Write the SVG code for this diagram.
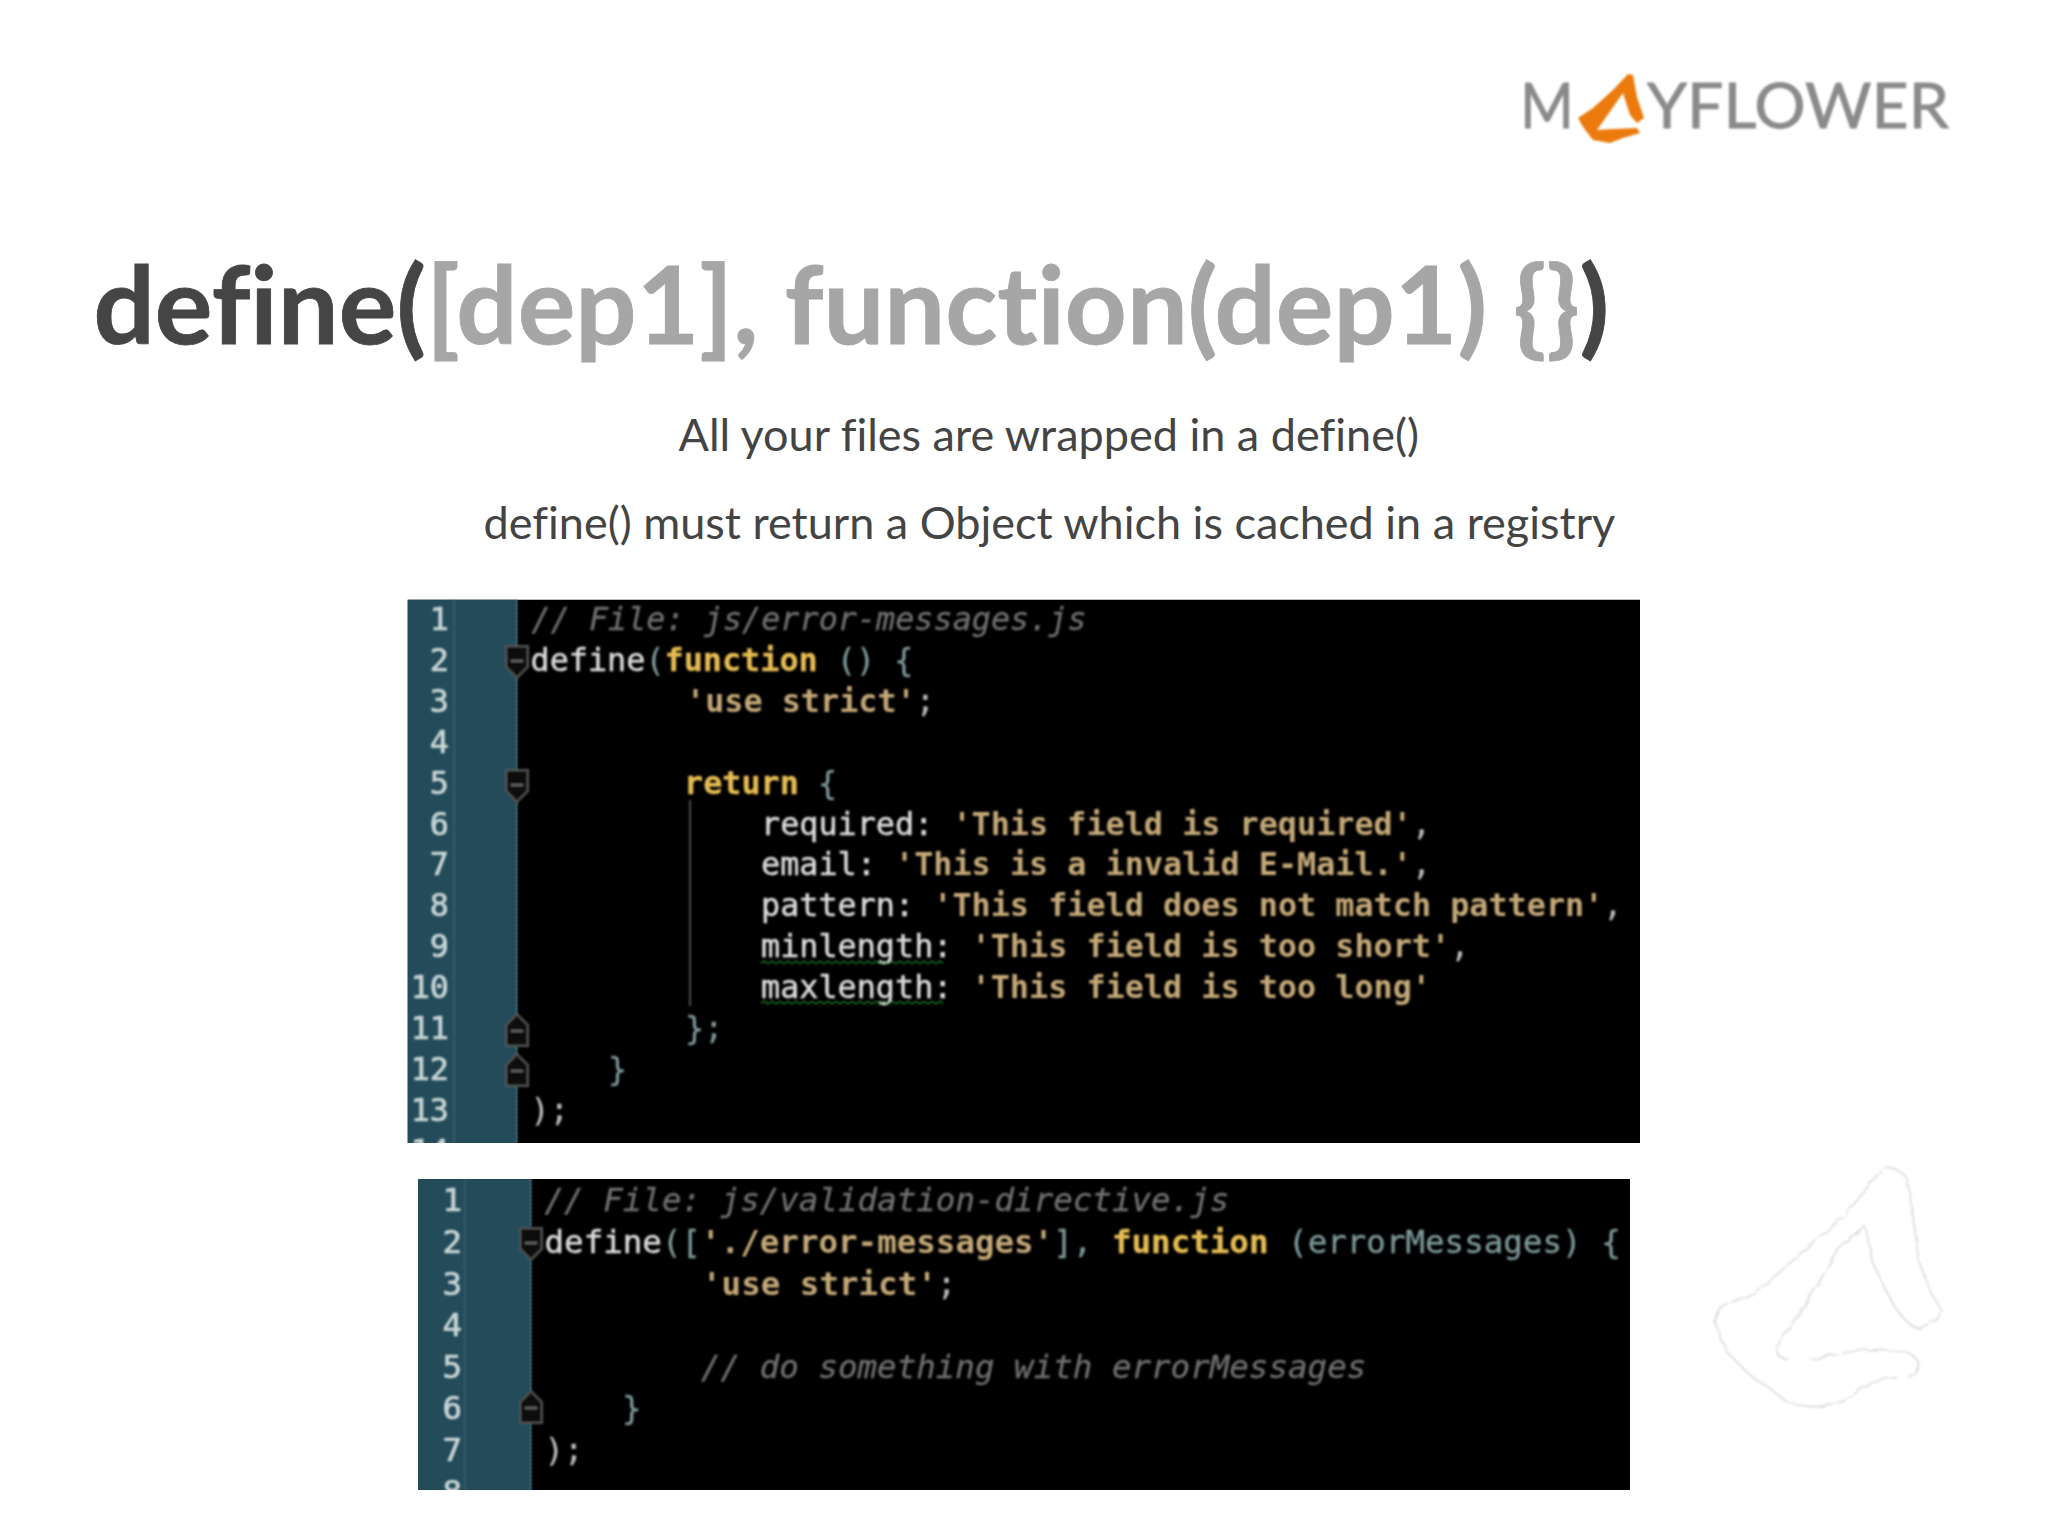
<svg xmlns="http://www.w3.org/2000/svg" width="2048" height="1536" viewBox="0 0 2048 1536">
<style>
.t{font-family:"Lato","Noto Sans",sans-serif;font-variant-ligatures:none}
.h{font-size:108px;font-weight:700}
.d{fill:#454545;stroke:#454545;stroke-width:.8}.g{fill:#a6a6a6;stroke:#a6a6a6;stroke-width:.8}
.s{font-size:45px;fill:#444}
.lg{font-size:62px;fill:#8a8a8a;stroke:#8a8a8a;stroke-width:.8}
.c{font-family:"DejaVu Sans Mono","Liberation Mono",monospace;white-space:pre;font-variant-ligatures:none}
.c1{font-size:31.8px}.c2{font-size:32.5px}
.n{fill:#c9d6d6;stroke:#c9d6d6;stroke-width:.7;text-anchor:end}
.w{fill:#dcdcdc;stroke:#dcdcdc;stroke-width:.5}.k{fill:#e6bd52;stroke:#e6bd52;stroke-width:.3;font-weight:700}.st{fill:#c4a877;font-weight:700}.p{fill:#7f9a9a;stroke:#7f9a9a;stroke-width:.3}.cm{fill:#6f6f6f;stroke:#6f6f6f;stroke-width:.3;font-style:italic}.pn{fill:#bbb;stroke:#bbb;stroke-width:.3}
.f{fill:#0c0c0c;stroke:#555;stroke-width:2}
.m{stroke:#666;stroke-width:2}
</style>
<defs>
<filter id="b" x="-2%" y="-2%" width="104%" height="104%"><feGaussianBlur stdDeviation="1"/></filter>
<filter id="b2" x="-5%" y="-20%" width="110%" height="140%"><feGaussianBlur stdDeviation="1"/></filter>
<filter id="wob" x="-5%" y="-5%" width="110%" height="110%"><feTurbulence type="fractalNoise" baseFrequency=".09" numOctaves="2" seed="4" result="n"/><feDisplacementMap in="SourceGraphic" in2="n" scale="5"/><feGaussianBlur stdDeviation=".8"/></filter>
<clipPath id="c1"><rect x="407.500" y="599.500" width="1232.500" height="543.500"/></clipPath>
<clipPath id="c2"><rect x="418" y="1179" width="1212" height="311"/></clipPath>
<pattern id="z" width="8" height="5" patternUnits="userSpaceOnUse"><path d="M0 4L4 1L8 4" fill="none" stroke="#1f8a2a" stroke-width="1.4"/></pattern>
<path id="fd" d="M-11 -15H11V6L0 17L-11 6Z" class="f"/>
<path id="fu" d="M-11 15H11V-6L0 -17L-11 -6Z" class="f"/>
</defs>
<rect width="2048" height="1536" fill="#fff"/>

<g id="logo" filter="url(#b2)">
<text class="t lg" x="1520" y="128" textLength="54" lengthAdjust="spacingAndGlyphs">M</text>
<text class="t lg" x="1647" y="128" textLength="302" lengthAdjust="spacingAndGlyphs">YFLOWER</text>
<path fill="#ec7a0c" d="M1628 74L1633 75L1637 97L1644 118L1637 123L1630 115L1623 93L1597 130L1613 129L1637 128L1640 133L1623 138L1610 143L1593 140L1583 127L1578 118L1593 108L1613 90Z"/>
</g>

<g id="title"><text class="t h" x="93.500" y="343.500"><tspan class="d">define(</tspan><tspan class="g">[dep1], function(dep1) {}</tspan><tspan class="d">)</tspan></text></g>
<g id="subtitle">
<text class="t s" x="678.500" y="450.500">All your files are wrapped in a define()</text>
<text class="t s" x="483.500" y="538.500">define() must return a Object which is cached in a registry</text>
</g>

<g id="panel1" clip-path="url(#c1)">
<rect x="407.500" y="599.500" width="1232.500" height="543.500" fill="#000"/>
<rect x="407.500" y="599.500" width="110" height="543.500" fill="#234b5a"/>
<g filter="url(#b)">
<path d="M454 600V1143" stroke="#3c6270" stroke-width="1.500"/>
<path d="M517 600V1143" stroke="#6a7a80" stroke-width="1.500" stroke-dasharray="2 2"/>
<path d="M690 800V1006" stroke="#666" stroke-width="1.500"/>
<g class="c c1 n">
<text x="449" y="630">1</text><text x="449" y="671">2</text><text x="449" y="712">3</text><text x="449" y="753">4</text><text x="449" y="794">5</text><text x="449" y="835">6</text><text x="449" y="875">7</text><text x="449" y="916">8</text><text x="449" y="957">9</text><text x="449" y="998">10</text><text x="449" y="1039">11</text><text x="449" y="1080">12</text><text x="449" y="1121">13</text><text x="449" y="1162">14</text>
</g>
<use href="#fd" x="517" y="661"/><path class="m" d="M511 661H523"/>
<use href="#fd" x="517" y="785"/><path class="m" d="M511 785H523"/>
<use href="#fu" x="517" y="1031"/><path class="m" d="M511 1031H523"/>
<use href="#fu" x="517" y="1071"/><path class="m" d="M511 1071H523"/>
<g class="c c1" xml:space="preserve">
<text x="531.500" y="630" class="cm">// File: js/error-messages.js</text>
<text x="530.500" y="671"><tspan class="w">define</tspan><tspan class="p">(</tspan><tspan class="k">function</tspan><tspan class="p"> () {</tspan></text>
<text x="686" y="712"><tspan class="st">'use strict'</tspan><tspan class="pn">;</tspan></text>
<text x="684" y="794"><tspan class="k">return</tspan><tspan class="p"> {</tspan></text>
<text x="761" y="835"><tspan class="w">required: </tspan><tspan class="st">'This field is required'</tspan><tspan class="pn">,</tspan></text>
<text x="761" y="875"><tspan class="w">email: </tspan><tspan class="st">'This is a invalid E-Mail.'</tspan><tspan class="pn">,</tspan></text>
<text x="761" y="916"><tspan class="w">pattern: </tspan><tspan class="st">'This field does not match pattern'</tspan><tspan class="pn">,</tspan></text>
<text x="761" y="957"><tspan class="w">minlength: </tspan><tspan class="st">'This field is too short'</tspan><tspan class="pn">,</tspan></text>
<text x="761" y="998"><tspan class="w">maxlength: </tspan><tspan class="st">'This field is too long'</tspan></text>
<text x="685" y="1039" class="p">};</text>
<text x="608" y="1080" class="p">}</text>
<text x="530.500" y="1121" class="pn">);</text>
</g>
<rect x="761" y="959" width="182" height="5" fill="url(#z)"/>
<rect x="761" y="1001" width="182" height="5" fill="url(#z)"/>
</g>
</g>

<g id="panel2" clip-path="url(#c2)">
<rect x="418" y="1179" width="1212" height="311" fill="#000"/>
<rect x="418" y="1179" width="113.500" height="311" fill="#234b5a"/>
<g filter="url(#b)">
<path d="M465 1179V1490" stroke="#3c6270" stroke-width="1.500"/>
<path d="M531 1179V1490" stroke="#6a7a80" stroke-width="1.500" stroke-dasharray="2 2"/>
<g class="c c2 n">
<text x="462" y="1211">1</text><text x="462" y="1253">2</text><text x="462" y="1295">3</text><text x="462" y="1336">4</text><text x="462" y="1378">5</text><text x="462" y="1419">6</text><text x="462" y="1461">7</text><text x="462" y="1503">8</text>
</g>
<use href="#fd" x="531" y="1243"/><path class="m" d="M525 1243H537"/>
<use href="#fu" x="531" y="1408"/><path class="m" d="M525 1408H537"/>
<g class="c c2" xml:space="preserve">
<text x="544.500" y="1211" class="cm">// File: js/validation-directive.js</text>
<text x="544.500" y="1253"><tspan class="w">define</tspan><tspan class="p">([</tspan><tspan class="st">'./error-messages'</tspan><tspan class="p">], </tspan><tspan class="k">function</tspan><tspan class="p"> (errorMessages) {</tspan></text>
<text x="702" y="1295"><tspan class="st">'use strict'</tspan><tspan class="pn">;</tspan></text>
<text x="701" y="1378" class="cm">// do something with errorMessages</text>
<text x="622" y="1419" class="p">}</text>
<text x="544.500" y="1461" class="pn">);</text>
</g>
</g>
</g>

<g id="watermark" filter="url(#wob)">
<g transform="translate(1700 1150) scale(.3367)" fill="none" stroke="#dcdcdc" stroke-width="5" stroke-linejoin="round" stroke-linecap="round">
<path d="M545 50Q590 50 615 85L630 180L650 330L680 410L715 475Q710 505 650 530Q610 520 570 450L520 350L490 225L410 290L350 400L290 490L225 590Q225 615 260 622M330 622L440 600Q540 585 610 600Q660 620 650 650L620 675M580 672L500 695L430 745L360 765L260 750L210 710L150 670L80 600L42 510Q50 460 100 450L160 425L240 360L340 270L430 195L545 50"/>
</g>
</g>
</svg>
